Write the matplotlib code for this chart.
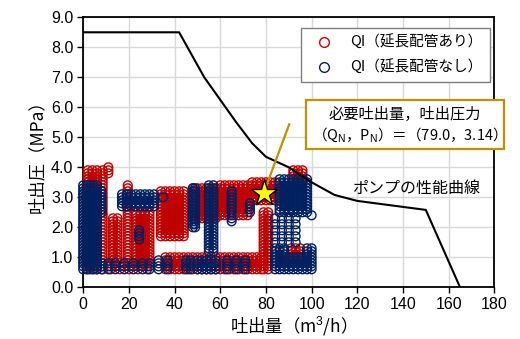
import matplotlib
matplotlib.use("Agg")
import matplotlib.pyplot as plt
from matplotlib.lines import Line2D

plt.rcParams['font.family'] = ['Noto Sans CJK JP', 'DejaVu Sans']
plt.rcParams['mathtext.fontset'] = 'custom'
plt.rcParams['mathtext.rm'] = 'Liberation Sans'

# ---- data -------------------------------------------------------------
pump_q = [0, 42, 53, 60, 67, 74, 80, 90, 100, 110, 120, 150, 165]
pump_p = [8.5, 8.5, 7.0, 6.25, 5.5, 4.8, 4.35, 4.0, 3.5, 3.08, 2.88, 2.58, 0.0]

req_q = 79.0
req_p = 3.14

x_ticks = [0, 20, 40, 60, 80, 100, 120, 140, 160, 180]
y_ticks = [0.0, 1.0, 2.0, 3.0, 4.0, 5.0, 6.0, 7.0, 8.0, 9.0]

legend_labels = ['QI（延長配管あり）', 'QI（延長配管なし）']

# blocks of observed points: (flow values, pressure values)
red_blocks = [
    ([2, 4, 6, 8.5], [0.6, 0.7, 0.8, 0.9, 1.0, 1.1, 1.2, 1.3, 1.4, 1.5, 1.6, 1.7, 1.8,
                      1.9, 2.0, 2.1, 2.2, 2.3, 2.4, 2.5, 2.6, 2.7, 2.8, 2.9, 3.0, 3.1,
                      3.2, 3.3, 3.4, 3.5, 3.6, 3.7, 3.8, 3.9]),
    ([11], [3.8, 3.9, 4.0]),
    ([13, 15], [0.9, 1.0, 1.1, 1.2, 1.3, 1.4, 1.5, 1.6, 1.7, 1.8, 1.9, 2.0, 2.1, 2.2, 2.3]),
    ([19.5], [0.8, 0.9, 1.0, 1.1, 1.2, 1.3, 1.4, 1.5, 1.6, 1.7, 1.8, 1.9, 2.0, 2.1,
              2.2, 2.3, 2.4, 2.5, 2.6, 2.7, 2.8, 2.9, 3.0, 3.1, 3.2, 3.3, 3.4]),
    ([23, 25, 27, 29], [0.8, 0.9, 1.0, 1.1, 1.2, 1.3, 1.4, 1.5, 1.6, 1.7, 1.8, 1.9,
                        2.0, 2.1, 2.2, 2.3, 2.4, 2.5]),
    ([12, 16, 20, 24, 28], [0.6, 0.7, 0.8]),
    ([34, 36, 38, 40, 42, 44], [1.7, 1.8, 1.9, 2.0, 2.1, 2.2, 2.3, 2.4, 2.5, 2.6, 2.7,
                                2.8, 2.9, 3.0, 3.1, 3.2]),
    ([36, 38, 40, 42, 44], [0.6, 0.7, 0.8, 0.9, 1.0]),
    ([48, 50, 52, 54, 56, 58], [2.3, 2.4, 2.5, 2.6, 2.7, 2.8, 2.9, 3.0, 3.1, 3.2, 3.3]),
    ([60, 62, 64, 66, 68, 70, 72], [2.4, 2.5, 2.6, 2.7, 2.8, 2.9, 3.0, 3.1, 3.2, 3.3, 3.4]),
    ([74, 76, 78, 80, 82, 84], [2.9, 3.0, 3.1, 3.2, 3.3, 3.4, 3.5]),
    ([79, 81], [0.6, 0.7, 0.8, 0.9, 1.0, 1.1, 1.2, 1.3, 1.4, 1.5, 1.6, 1.7, 1.8, 1.9,
                2.0, 2.1, 2.2, 2.3, 2.4, 2.5]),
    ([46, 48, 50, 52, 54, 56, 58, 60, 62, 64, 66, 68, 70, 72, 74, 76, 78],
     [0.6, 0.7, 0.8, 0.9, 1.0]),
    ([92, 94, 96], [3.5, 3.6, 3.7, 3.8, 3.9]),
    ([91, 93, 95], [1.0, 1.1, 1.2, 1.3]),
]

blue_blocks = [
    ([0, 1.5, 3, 4.5, 6], [0.6, 0.7, 0.8, 0.9, 1.0, 1.1, 1.2, 1.3, 1.4, 1.5, 1.6, 1.7,
                           1.8, 1.9, 2.0, 2.1, 2.2, 2.3, 2.4, 2.5, 2.6, 2.7, 2.8, 2.9,
                           3.0, 3.1, 3.2, 3.3, 3.4]),
    ([8], [2.5, 2.6, 2.7, 2.8, 2.9, 3.0, 3.1, 3.2]),
    ([8, 11, 14, 18, 22, 26, 29], [0.6, 0.7, 0.8]),
    ([17, 19, 21, 23, 25, 27, 29, 31], [2.7, 2.8, 2.9, 3.0, 3.1]),
    ([24.5], [1.6, 1.7, 1.8, 1.9]),
    ([35], [3.0]),
    ([33, 37], [0.6, 0.7, 0.8, 0.9]),
    ([48, 49], [2.0, 2.1, 2.2, 2.3, 2.4, 2.5, 2.6, 2.7, 2.8, 2.9, 3.0, 3.1, 3.2, 3.3]),
    ([55, 57], [1.2, 1.3, 1.4, 1.5, 1.6, 1.7, 1.8, 1.9, 2.0, 2.1, 2.2, 2.3, 2.4, 2.5,
                2.6, 2.7, 2.8, 2.9, 3.0, 3.1, 3.2, 3.3, 3.4]),
    ([45, 47, 50, 52, 54, 56, 58], [0.6, 0.7, 0.8, 0.9]),
    ([65], [2.2, 2.3, 2.4, 2.5, 2.6, 2.7, 2.8, 2.9, 3.0, 3.1, 3.2]),
    ([73], [2.5, 2.6, 2.7, 2.8]),
    ([63, 67, 71], [0.6, 0.7, 0.8, 0.9]),
    ([86, 88, 90, 92, 94, 96, 98], [2.5, 2.6, 2.7, 2.8, 2.9, 3.0, 3.1, 3.2, 3.3, 3.4,
                                    3.5, 3.6]),
    ([84, 87, 90, 93], [1.5, 1.7, 1.9, 2.1, 2.3]),
    ([84, 86, 88, 90, 92, 94, 96, 98, 100], [0.6, 0.7, 0.8, 0.9, 1.0]),
    ([84, 86, 88, 98, 100], [1.1, 1.2, 1.3]),
    ([100], [2.4]),
]

RED = '#C00000'
BLUE = '#002060'
GOLD = '#C09000'


def expand(blocks):
    xs, ys = [], []
    for bx, by in blocks:
        for xv in bx:
            for yv in by:
                xs.append(xv)
                ys.append(yv)
    return xs, ys


# ---- figure -----------------------------------------------------------
fig = plt.figure(figsize=(5.2, 3.39), dpi=100)
ax = fig.add_axes([0.160, 0.1525, 0.7906, 0.7965])

ax.set_xlim(0, 180)
ax.set_ylim(0, 9)
ax.set_xticks(x_ticks)
ax.set_yticks(y_ticks)
ax.set_xticklabels([str(v) for v in x_ticks], fontfamily='Liberation Sans', fontsize=11.5)
ax.set_yticklabels(['%.1f' % v for v in y_ticks], fontfamily='Liberation Sans', fontsize=11.5)
ax.grid(True, color='#d9d9d9', linewidth=1.0, zorder=0)
ax.set_axisbelow(True)
for s in ax.spines.values():
    s.set_color('black')
    s.set_linewidth(1.3)
ax.tick_params(direction='out', length=4, width=1, pad=3, color='black')

rx, ry = expand(red_blocks)
bx, by = expand(blue_blocks)
ax.scatter(rx, ry, s=40, facecolors='none', edgecolors=RED, linewidths=1.0,
           zorder=3, clip_on=False)
ax.scatter(bx, by, s=40, facecolors='none', edgecolors=BLUE, linewidths=1.0,
           zorder=4, clip_on=False)

ax.plot(pump_q, pump_p, color='black', linewidth=1.5, zorder=5)
ax.text(117.5, 3.3, 'ポンプの性能曲線', fontsize=11.5, ha='left', va='center', zorder=6)

# callout line + star
ax.plot([req_q, 90.2], [req_p, 5.43], color=GOLD, linewidth=1.6, zorder=6)
ax.plot([req_q], [req_p], marker='*', markersize=20, markerfacecolor='#FFFF00',
        markeredgecolor='black', markeredgewidth=1.0, linestyle='none', zorder=7)

# annotation box
fig.patches.append(plt.Rectangle((306 / 520, 1 - 149 / 339), 198 / 520, 49 / 339,
                                 transform=fig.transFigure, facecolor='white',
                                 edgecolor=GOLD, linewidth=1.6, zorder=10))
fig.text(405 / 520, 1 - 114 / 339, '必要吐出量，吐出圧力', ha='center', va='center',
         fontsize=11, zorder=11)
fig.text(405 / 520, 1 - 135 / 339,
         r'（Q$_{\mathrm{N}}$，P$_{\mathrm{N}}$）＝（79.0，3.14）',
         ha='center', va='center', fontsize=10.5, zorder=11)

# legend
handles = [
    Line2D([], [], marker='o', linestyle='none', markerfacecolor='none',
           markeredgecolor=RED, markersize=7, markeredgewidth=1.0),
    Line2D([], [], marker='o', linestyle='none', markerfacecolor='none',
           markeredgecolor=BLUE, markersize=7, markeredgewidth=1.0),
]
leg = fig.legend(handles, legend_labels, loc='upper right',
                 bbox_to_anchor=(490 / 520, 1 - 28 / 339), frameon=True,
                 fancybox=False, edgecolor='#7f7f7f', framealpha=1.0,
                 fontsize=10.5, borderpad=0.5, labelspacing=0.65,
                 handletextpad=0.7, handlelength=2.2, borderaxespad=0)
leg.get_frame().set_linewidth(1.0)

ax.set_xlabel('吐出量（m$^{3}$/h）', fontsize=12.5, labelpad=2)
ax.set_ylabel('吐出圧（MPa）', fontsize=12.5, labelpad=4)

fig.savefig('out.png', dpi=100)
